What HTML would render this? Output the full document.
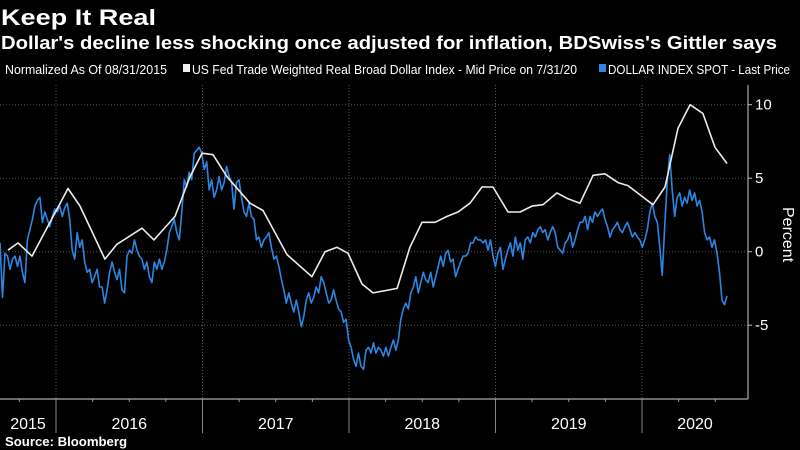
<!DOCTYPE html>
<html><head><meta charset="utf-8"><style>
html,body{margin:0;padding:0;background:#000;}
svg{display:block;}
text{font-family:"Liberation Sans Narrow","Liberation Sans",sans-serif;}
</style></head><body>
<svg id="chart" width="800" height="450" viewBox="0 0 800 450" xmlns="http://www.w3.org/2000/svg">
<rect x="0" y="0" width="800" height="450" fill="#000"/>
<text x="1" y="25" fill="#fff" font-size="22" font-weight="bold" style="font-family:'Liberation Sans',sans-serif" textLength="155" lengthAdjust="spacingAndGlyphs">Keep It Real</text>
<text x="1" y="49" fill="#fff" font-size="18" font-weight="bold" style="font-family:'Liberation Sans',sans-serif" textLength="776" lengthAdjust="spacingAndGlyphs">Dollar's decline less shocking once adjusted for inflation, BDSwiss's Gittler says</text>
<g>
<text x="5" y="74" fill="#fff" font-size="13" textLength="162" lengthAdjust="spacingAndGlyphs">Normalized As Of 08/31/2015</text>
<rect x="183" y="64" width="7" height="8" fill="#f0f0f0"/>
<text x="192" y="74" fill="#fff" font-size="13" textLength="385" lengthAdjust="spacingAndGlyphs">US Fed Trade Weighted Real Broad Dollar Index - Mid Price on 7/31/20</text>
<rect x="599" y="64" width="7" height="8" fill="#2b87e3"/>
<text x="608" y="74" fill="#fff" font-size="13" textLength="182" lengthAdjust="spacingAndGlyphs">DOLLAR INDEX SPOT - Last Price</text>
</g>
<g id="grid"></g>
<g id="axes"></g>
<g id="series"></g>
<text x="0" y="0" fill="#fff" font-size="16" transform="translate(783,207) rotate(90)">Percent</text>
<text x="5" y="446" fill="#fff" font-size="13" font-weight="bold" style="font-family:'Liberation Sans',sans-serif" textLength="122" lengthAdjust="spacingAndGlyphs">Source: Bloomberg</text>
</svg>
<script>
const yTicks = [10, 5, 0, -5];
const yTickLabels = ["10", "5", "0", "-5"];
const years = [2015, 2016, 2017, 2018, 2019, 2020];
const yearLabels = ["2015", "2016", "2017", "2018", "2019", "2020"];
const realDates = [2015.672,2015.741,2015.836,2016.082,2016.164,2016.334,2016.416,2016.587,2016.669,2016.812,2016.915,2016.997,2017.072,2017.167,2017.324,2017.413,2017.577,2017.747,2017.836,2017.918,2017.993,2018.089,2018.164,2018.328,2018.416,2018.498,2018.587,2018.669,2018.744,2018.826,2018.908,2018.983,2019.085,2019.167,2019.249,2019.324,2019.420,2019.495,2019.577,2019.666,2019.747,2019.836,2019.904,2020.075,2020.157,2020.246,2020.328,2020.416,2020.498,2020.580];
const realValues = [0.1,0.6,-0.3,4.3,3.1,-0.5,0.5,1.6,0.8,2.4,5.1,6.7,6.6,5.1,3.3,2.8,-0.2,-1.7,0.0,0.3,-0.1,-2.2,-2.8,-2.5,0.3,2.0,2.0,2.4,2.7,3.3,4.4,4.4,2.7,2.7,3.1,3.2,4.0,3.6,3.3,5.2,5.3,4.7,4.5,3.2,4.4,8.4,10.0,9.4,7.1,6.0];
const dxyStart = 2015.618;
const dxyEnd = 2020.580;
const dxyValues = [0.6,-3.1,-0.1,-0.3,-1.2,-0.5,-0.3,-1.0,-0.3,-1.4,-2.1,0.8,1.5,2.2,3.1,3.5,3.7,2.0,2.7,2.2,1.7,2.4,2.9,2.7,3.1,2.4,3.0,3.3,2.2,0.1,-0.5,1.3,0.3,0.8,-0.7,-1.4,-1.2,-2.1,-1.7,-1.2,-2.4,-2.4,-3.5,-2.6,-1.4,-0.7,-1.4,-1.9,-1.2,-2.6,-2.8,-0.3,0.1,-0.1,0.8,0.1,-0.3,-0.5,-1.2,-0.7,-1.7,-2.1,-0.7,-1.2,-0.5,-1.2,-0.7,0.1,1.3,1.7,2.2,1.3,0.8,2.7,4.9,4.4,5.4,4.9,6.7,6.9,7.1,6.7,5.6,6.1,4.2,4.9,3.7,4.2,5.1,4.2,4.7,5.8,5.1,4.7,2.9,4.7,4.9,3.7,2.7,2.4,3.3,2.4,2.2,0.8,1.0,0.3,0.8,1.0,1.3,0.3,-0.5,-0.3,-1.0,-1.9,-2.6,-3.5,-2.8,-3.5,-4.1,-3.3,-4.1,-5.1,-4.4,-3.3,-2.8,-3.5,-3.1,-2.4,-2.8,-1.7,-2.1,-2.8,-3.5,-3.3,-2.6,-3.3,-3.9,-4.1,-4.8,-4.6,-6.0,-6.5,-7.3,-7.8,-6.9,-7.8,-8.0,-6.7,-6.5,-6.9,-6.2,-6.9,-6.5,-6.7,-7.1,-6.5,-7.1,-6.5,-6.0,-6.7,-6.0,-4.6,-3.9,-3.5,-3.9,-2.8,-2.4,-1.7,-2.8,-2.1,-1.4,-1.9,-2.1,-1.4,-2.4,-1.7,-1.0,-0.3,-1.0,-0.1,0.1,-0.7,-0.5,-1.7,-1.2,-0.7,-0.3,-0.3,-0.1,0.6,0.6,1.0,0.8,0.8,0.6,0.8,0.1,0.8,-0.3,-1.0,-0.1,0.3,-1.2,-0.5,0.1,0.6,-0.3,1.0,0.1,0.6,-0.5,0.8,1.0,0.6,1.3,1.0,1.5,1.7,1.3,1.5,0.8,1.3,1.7,1.3,0.3,0.1,-0.1,0.6,0.8,1.3,0.3,0.8,1.5,2.0,2.0,2.4,1.5,2.4,2.0,2.7,2.4,2.7,2.9,2.2,1.7,1.0,1.5,1.7,2.0,1.5,1.3,1.7,2.0,1.5,1.0,1.3,1.0,0.8,0.3,0.8,1.5,2.7,3.3,2.4,2.0,0.3,-1.6,1.7,4.7,6.6,4.2,2.4,3.7,4.0,3.1,3.7,3.3,4.2,3.5,4.0,3.1,3.5,2.7,1.3,0.8,1.0,0.3,0.8,-0.1,-1.4,-3.3,-3.6,-3.0];

const NS = "http://www.w3.org/2000/svg";
const plotLeft = 0, plotRight = 748, plotTop = 85, plotBottom = 399;
function xScale(t){ return 56 + (t - 2016) * 146.5; }
function yScale(v){ return 251.7 - v * 14.7; }
function mk(tag, attrs, parent){
  const el = document.createElementNS(NS, tag);
  for (const k in attrs) el.setAttribute(k, attrs[k]);
  parent.appendChild(el);
  return el;
}
const grid = document.getElementById('grid');
const axes = document.getElementById('axes');
const series = document.getElementById('series');

yTicks.forEach((v, i) => {
  const y = yScale(v);
  const g = mk('line', {x1: plotLeft, x2: plotRight, y1: y, y2: y, stroke: '#555', 'stroke-width': 1, 'stroke-dasharray': '1,2'}, grid);
  
  
  const t = mk('line', {x1: plotRight, x2: plotRight + 4, y1: y, y2: y, stroke: '#bbb', 'stroke-width': 1}, axes);
  
  
  const lab = mk('text', {x: plotRight + 7, y: y + 5, fill: '#fff', 'font-size': 15}, axes);
  lab.textContent = yTickLabels[i];
  
  
});

years.forEach((yr, i) => {
  const x = xScale(yr);
  if (yr > 2015) {
    const g = mk('line', {x1: x, x2: x, y1: plotTop, y2: plotBottom, stroke: '#555', 'stroke-width': 1, 'stroke-dasharray': '1,2'}, grid);
    
    
    const s = mk('line', {x1: x, x2: x, y1: plotBottom, y2: 433, stroke: '#888', 'stroke-width': 1}, axes);
    
    
  }
  for (let q = 1; q < 4; q++) {
    const xq = xScale(yr + q / 4);
    if (xq > plotLeft && xq < plotRight) {
      const tk = mk('line', {x1: xq, x2: xq, y1: plotBottom, y2: plotBottom + 3, stroke: '#999', 'stroke-width': 1}, axes);
      
      
    }
  }
  const x0 = Math.max(plotLeft, xScale(yr)), x1 = Math.min(plotRight, xScale(yr + 1));
  const lab = mk('text', {x: (x0 + x1) / 2, y: 429, fill: '#fff', 'font-size': 16, 'text-anchor': 'middle'}, axes);
  lab.textContent = yearLabels[i];
  
  
});

const xAxis = mk('line', {x1: plotLeft, x2: plotRight, y1: plotBottom, y2: plotBottom, stroke: '#aaa', 'stroke-width': 1.2}, axes);


const yAxis = mk('line', {x1: plotRight, x2: plotRight, y1: plotTop, y2: plotBottom, stroke: '#aaa', 'stroke-width': 1.2}, axes);



const n = dxyValues.length;
const dxyPts = dxyValues.map((v, i) => {
  const t = dxyStart + (dxyEnd - dxyStart) * i / (n - 1);
  return xScale(t).toFixed(1) + ',' + yScale(v).toFixed(1);
}).join(' ');
const blue = mk('polyline', {points: dxyPts, fill: 'none', stroke: '#2b87e3', 'stroke-width': 1.6, 'stroke-linejoin': 'round'}, series);



const realPts = realValues.map((v, i) => xScale(realDates[i]).toFixed(1) + ',' + yScale(v).toFixed(1)).join(' ');
const white = mk('polyline', {points: realPts, fill: 'none', stroke: '#ececec', 'stroke-width': 1.6, 'stroke-linejoin': 'round'}, series);


</script>
</body></html>
